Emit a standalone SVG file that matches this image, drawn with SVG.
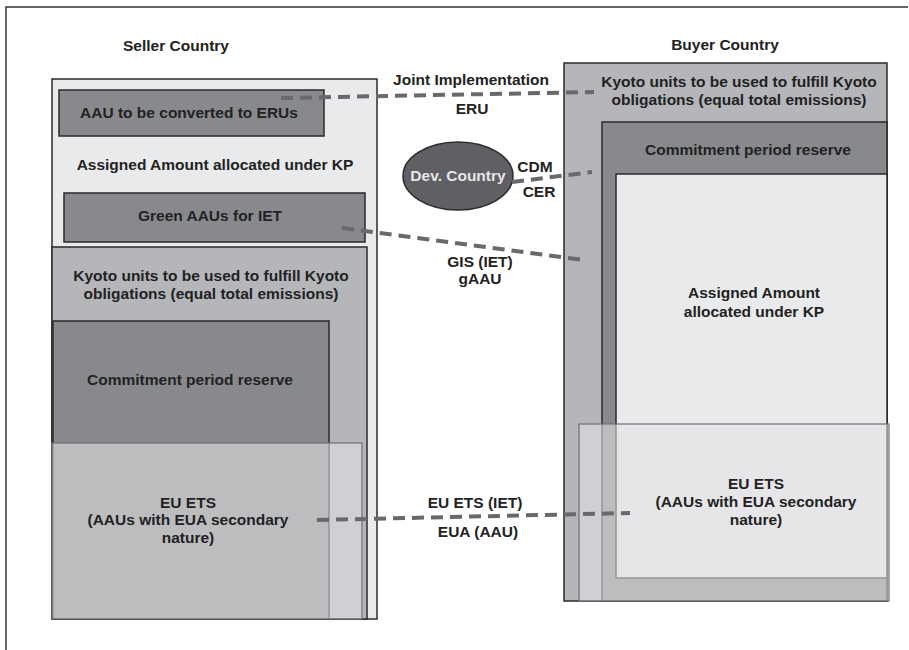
<svg xmlns="http://www.w3.org/2000/svg" width="909" height="650" viewBox="0 0 909 650">
<style>
text{font-family:"Liberation Sans",Arial,sans-serif;font-weight:bold;font-size:15.5px;fill:#222;text-anchor:middle}
.dark{fill:#88898d;stroke:#2a2a2a;stroke-width:1.5}
.mid{fill:#b4b6b9;stroke:#2a2a2a;stroke-width:1.5}
.light{fill:#e9eaeb;stroke:#2a2a2a;stroke-width:1.5}
.ets{fill:#e3e4e6;fill-opacity:0.58;stroke:#6f7073;stroke-width:1.2}
.dash{fill:none;stroke:#68696c;stroke-width:4;stroke-dasharray:12 7}
</style>
<rect width="909" height="650" fill="#fff"/>
<path d="M6 650 V7 H908" fill="none" stroke="#333" stroke-width="1.5"/>
<text x="176" y="51">Seller Country</text>
<text x="725" y="50">Buyer Country</text>
<g id="seller">
<rect class="light" x="52" y="79" width="325" height="540"/>
<text x="215" y="170">Assigned Amount allocated under KP</text>
</g>
<g id="aau-eru">
<rect class="dark" x="59" y="90" width="265" height="46"/>
<text x="189" y="118">AAU to be converted to ERUs</text>
</g>
<g id="green-aau">
<rect class="dark" x="64" y="193" width="301" height="49"/>
<text x="210" y="221">Green AAUs for IET</text>
</g>
<g id="seller-kyoto">
<rect class="mid" x="52" y="247" width="315" height="372"/>
<text x="211" y="281">Kyoto units to be used to fulfill Kyoto</text>
<text x="211" y="299">obligations (equal total emissions)</text>
</g>
<g id="seller-cpr">
<rect class="dark" x="53" y="321" width="276" height="298"/>
<text x="190" y="385">Commitment period reserve</text>
</g>
<g id="seller-ets">
<rect class="ets" x="52" y="443" width="310" height="176"/>
<text x="188" y="508">EU ETS</text>
<text x="188" y="525">(AAUs with EUA secondary</text>
<text x="188" y="543">nature)</text>
</g>
<g id="buyer-kyoto">
<rect class="mid" x="564" y="63" width="323" height="538"/>
<text x="739" y="87">Kyoto units to be used to fulfill Kyoto</text>
<text x="739" y="105">obligations (equal total emissions)</text>
</g>
<g id="buyer-cpr">
<rect class="dark" x="602" y="122" width="285" height="479"/>
<text x="748" y="155">Commitment period reserve</text>
</g>
<g id="buyer-assigned">
<rect class="light" x="616" y="174" width="271" height="404" fill="#e8e9e9"/>
<text x="754" y="298">Assigned Amount</text>
<text x="754" y="317">allocated under KP</text>
</g>
<g id="buyer-ets">
<rect class="ets" x="579" y="424" width="310" height="177"/>
<text x="756" y="489">EU ETS</text>
<text x="756" y="507">(AAUs with EUA secondary</text>
<text x="756" y="525">nature)</text>
</g>
<g id="dev-country">
<ellipse cx="458" cy="176" rx="55" ry="34" fill="#5f6064" stroke="#2a2a2a" stroke-width="1.5"/>
<text x="458" y="181" style="fill:#e6e6e6">Dev. Country</text>
</g>
<g id="connectors">
<path class="dash" d="M281 98 L594 92"/>
<path class="dash" d="M512 182 L592 172"/>
<path class="dash" d="M342 228 L583 260"/>
<path class="dash" d="M317 520 L630 513"/>
</g>
<g id="labels">
<text x="471" y="85">Joint Implementation</text>
<text x="472" y="114">ERU</text>
<text x="535" y="172">CDM</text>
<text x="539" y="197">CER</text>
<text x="480" y="267">GIS (IET)</text>
<text x="480" y="284">gAAU</text>
<text x="475" y="508">EU ETS (IET)</text>
<text x="478" y="537">EUA (AAU)</text>
</g>
</svg>
